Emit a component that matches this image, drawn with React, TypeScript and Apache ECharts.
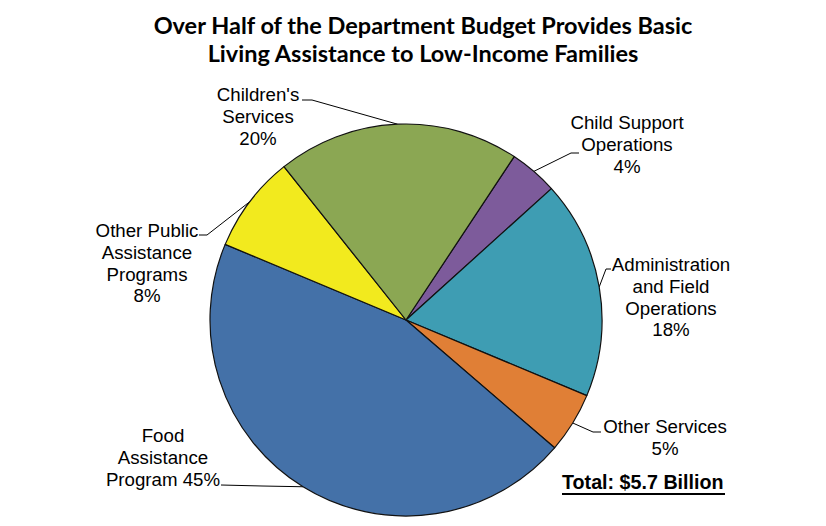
import React, { useEffect, useRef } from "react";
import * as echarts from "echarts";

const categories = [
  "Child Support\nOperations",
  "Administration\nand Field\nOperations",
  "Other Services",
  "Food\nAssistance\nProgram",
  "Other Public\nAssistance\nPrograms",
  "Children's\nServices",
];
const values = [4, 18, 5, 45, 8, 20];
const colors = ["#7D5B9B", "#3E9DB3", "#E07F36", "#4471A8", "#F2EA1E", "#8BA753"];
const titleLines = [
  "Over Half of the Department Budget Provides Basic",
  "Living Assistance to Low-Income Families",
];
const totalText = "Total: $5.7 Billion";

// label layout: [centerX, topY, elbowX, elbowY, endX, endY]
const labelPos: number[][] = [
  [627, 112, 571, 153, 579, 153],
  [671, 254, 606, 269, 611, 269],
  [665, 416, 593, 432, 601, 432],
  [163, 425, 262, 486, 221, 485],
  [147, 220, 207, 235, 199, 235],
  [258, 84, 312, 100, 302, 100],
];

export default function App() {
  const ref = useRef<HTMLDivElement>(null);
  useEffect(() => {
    if (!ref.current) return;
    const chart = echarts.init(ref.current, null, { renderer: "svg" });
    const cx = 406, cy = 320, R = 196;
    const total = values.reduce((a, b) => a + b, 0);
    const start = 33.5; // degrees clockwise from top
    const edgePts: number[][] = [];
    let acc = 0;
    values.forEach((v) => {
      const mid = start + ((acc + v / 2) / total) * 360;
      const rad = (mid * Math.PI) / 180;
      edgePts.push([cx + R * Math.sin(rad), cy - R * Math.cos(rad)]);
      acc += v;
    });
    chart.setOption({
      animation: false,
      title: {
        text: titleLines.join("\n"),
        left: 418,
        top: 6,
        textAlign: "center",
        textStyle: {
          fontFamily: "Lato",
          fontWeight: "bold",
          fontSize: 23.5,
          lineHeight: 28,
          color: "#000",
        },
      },
      series: [
        {
          type: "pie",
          center: [cx, cy],
          radius: R,
          startAngle: 90 - start,
          clockwise: true,
          avoidLabelOverlap: false,
          itemStyle: { borderColor: "#111", borderWidth: 1.2 },
          label: {
            show: true,
            position: "outside",
            fontFamily: "Liberation Sans, Arial, sans-serif",
            fontSize: 18.7,
            lineHeight: 21.7,
            color: "#000",
            align: "center",
            formatter: (p: any) =>
              p.name + (p.dataIndex === 3 ? " " : "\n") + p.value + "%",
          },
          labelLine: {
            show: true,
            length: 10,
            length2: 10,
            lineStyle: { color: "#000", width: 1 },
          },
          labelLayout: (p: any) => {
            const lp = labelPos[p.dataIndex];
            const e = edgePts[p.dataIndex];
            return {
              x: lp[0],
              y: lp[1],
              align: "center",
              verticalAlign: "top",
              labelLinePoints: [e, [lp[2], lp[3]], [lp[4], lp[5]]],
            };
          },
          emphasis: { disabled: true },
          data: categories.map((c, i) => ({
            name: c,
            value: values[i],
            itemStyle: { color: colors[i] },
          })),
        },
      ],
      graphic: [
        {
          type: "text",
          left: 562,
          top: 472,
          style: {
            text: totalText,
            fontFamily: "Liberation Sans, Arial, sans-serif",
            fontWeight: "bold",
            fontSize: 19.7,
            fill: "#000",
          },
        },
        {
          type: "line",
          shape: { x1: 562, y1: 494, x2: 725, y2: 494 },
          style: { stroke: "#000", lineWidth: 2 },
        },
      ],
    });
    return () => chart.dispose();
  }, []);
  return (
    <div
      ref={ref}
      style={{ position: "absolute", left: 0, top: 0, width: 826, height: 526 }}
    />
  );
}
